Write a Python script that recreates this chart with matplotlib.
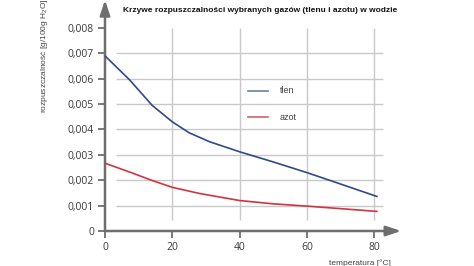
import matplotlib
matplotlib.use("Agg")
import matplotlib.pyplot as plt

# ---- data ----
temps_tlen = [0, 7.4, 14, 20, 25, 31, 40, 50, 60, 70, 81]
tlen = [0.0069, 0.00594, 0.00495, 0.0043, 0.00387, 0.00352, 0.00312, 0.00272, 0.0023, 0.00185, 0.00135]
temps_azot = [0, 8, 14, 20, 28, 40, 50, 60, 70, 81]
azot = [0.00267, 0.00229, 0.00199, 0.00172, 0.00148, 0.0012, 0.00107, 0.00098, 0.00088, 0.00077]
x_ticks = [0, 20, 40, 60, 80]
y_ticks = [0, 0.001, 0.002, 0.003, 0.004, 0.005, 0.006, 0.007, 0.008]
y_ticklabels = ["0", "0,001", "0,002", "0,003", "0,004", "0,005", "0,006", "0,007", "0,008"]
series_names = ["tlen", "azot"]
title = "Krzywe rozpuszczalności wybranych gazów (tlenu i azotu) w wodzie"
xlabel = "temperatura [°C]"
ylabel = "rozpuszczalność [g/100g H$_2$O]"

plt.rcParams['font.family'] = ['Liberation Sans', 'DejaVu Sans']
plt.rcParams['mathtext.fontset'] = 'custom'
plt.rcParams['mathtext.rm'] = 'Liberation Sans'
plt.rcParams['mathtext.it'] = 'Liberation Sans'

W, H = 474, 266
fig = plt.figure(figsize=(W / 100, H / 100), dpi=100)
x0px, y0px = 105, 231
xmax, ymax = 88, 0.0091
ax = fig.add_axes([x0px / W, (H - y0px) / H, (xmax * 3.366) / W, y0px / H])
ax.set_xlim(0, xmax)
ax.set_ylim(0, ymax)
for s in ax.spines.values():
    s.set_visible(False)

grid_c = '#c9c9c9'
ax.hlines(y_ticks[1:-1], 3.3, 82.6, color=grid_c, lw=1.0, zorder=1)
ax.vlines(x_ticks[1:], 0.00043, 0.008, color=grid_c, lw=1.0, zorder=1)

axis_c = '#6e6e6e'
ax.annotate('', xy=(0, 1.0), xytext=(0, 0), xycoords='axes fraction',
            arrowprops=dict(arrowstyle='-|>,head_length=0.9,head_width=0.3', color=axis_c, lw=1.8,
                            shrinkA=0, shrinkB=0), annotation_clip=False)
ax.annotate('', xy=(1.0, 0), xytext=(0, 0), xycoords='axes fraction',
            arrowprops=dict(arrowstyle='-|>,head_length=0.9,head_width=0.3', color=axis_c, lw=1.8,
                            shrinkA=0, shrinkB=0), annotation_clip=False)

ax.plot(temps_tlen, tlen, color='#2e4a8b', lw=1.2, zorder=3, solid_capstyle='butt', solid_joinstyle='round')
ax.plot(temps_azot, azot, color='#cf3540', lw=1.2, zorder=3, solid_capstyle='butt', solid_joinstyle='round')

# legend (manual)
ax.plot([42.5, 48.4], [0.00552, 0.00552], color='#6f7f9c', lw=1.2)
ax.plot([42.5, 48.4], [0.00448, 0.00448], color='#d5606a', lw=1.2)
ax.text(52.0, 0.00552, series_names[0], fontsize=6.5, color='#444444', va='center', ha='left')
ax.text(52.0, 0.00448, series_names[1], fontsize=6.5, color='#444444', va='center', ha='left')

ax.set_xticks(x_ticks)
ax.set_yticks(y_ticks)
ax.set_yticklabels(y_ticklabels)
ax.tick_params(axis='both', direction='out', length=5, width=1.3, color=axis_c,
               labelsize=7.5, labelcolor='#3a3a3a', pad=3)
for lab in ax.get_xticklabels() + ax.get_yticklabels():
    lab.set_fontfamily(['Open Sans', 'DejaVu Sans'])

fig.text(260 / W, 1 - 10 / H, title, fontsize=6.0, fontweight='bold', ha='center', va='center', color='#111111')
fig.text(360 / W, 1 - 263 / H, xlabel, fontsize=6, ha='center', va='center', color='#444444')
fig.text(45 / W, 1 - 113 / H, ylabel, fontsize=6, rotation=90, ha='center', va='bottom', color='#444444')

fig.savefig('out.png', dpi=100)
